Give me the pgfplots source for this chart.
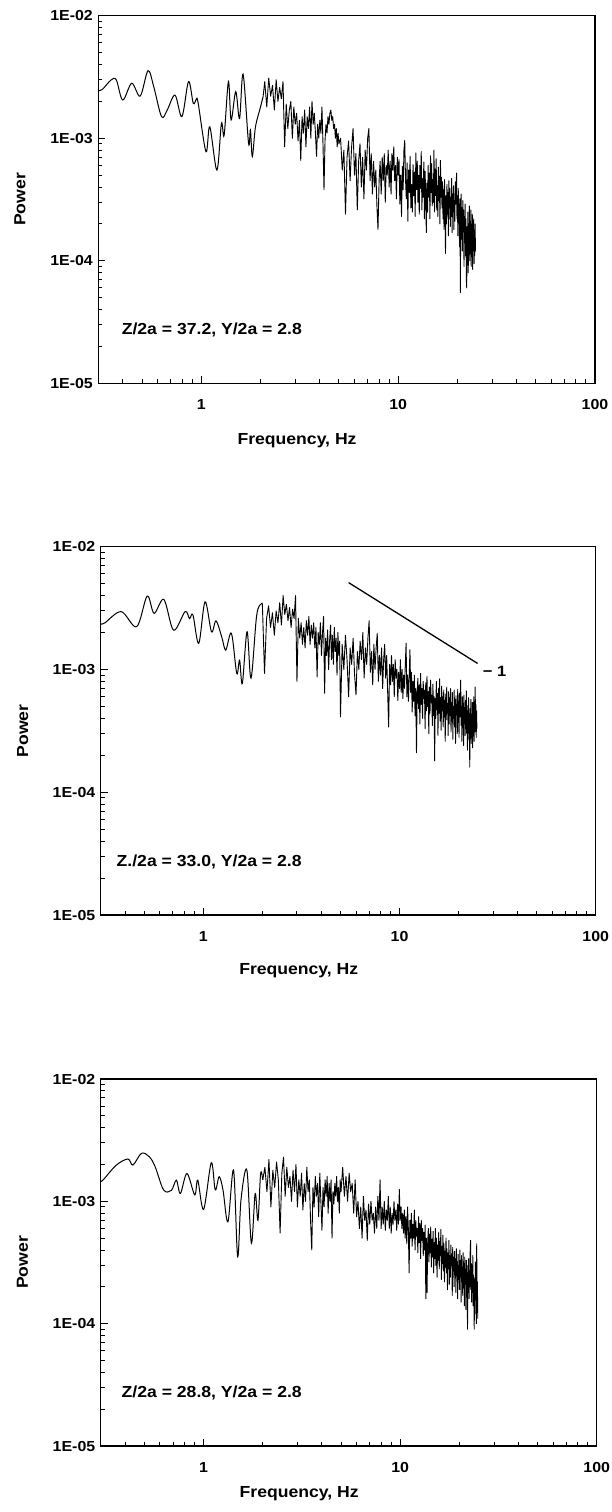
\documentclass[border=0pt]{standalone}
\usepackage{pgfplots}
\pgfplotsset{compat=1.18}
\usepackage{fontspec}
\setmainfont{Liberation Sans}[FakeStretch=1.1]
\setsansfont{Liberation Sans}[FakeStretch=1.1]

\begin{document}
\begin{tikzpicture}
\useasboundingbox (0,0) rectangle (611pt,-1512pt);

% ---------------- Panel 1 ----------------
\begin{axis}[at={(98.4pt,-383.3pt)}, anchor=south west,
  width=496.6pt, height=367.6pt, scale only axis,
  xmode=log, ymode=log,
  xmin=0.3, xmax=100, ymin=1e-5, ymax=1e-2,
  axis line style={line width=1.2pt},
  tick align=inside,
  xtick pos=left, ytick pos=left,
  xtick={1,10,100}, xticklabels={1,10,100},
  ytick={1e-5,1e-4,1e-3,1e-2}, yticklabels={1E-05,1E-04,1E-03,1E-02},
  minor xtick={0.4,0.5,0.6,0.7,0.8,0.9,2,3,4,5,6,7,8,9,20,30,40,50,60,70,80,90},
  minor ytick={2e-5,3e-5,4e-5,5e-5,6e-5,7e-5,8e-5,9e-5,2e-4,3e-4,4e-4,5e-4,6e-4,7e-4,8e-4,9e-4,2e-3,3e-3,4e-3,5e-3,6e-3,7e-3,8e-3,9e-3},
  major tick length=7pt, minor tick length=4pt,
  tick style={black, line width=1pt},
  tick label style={font=\bfseries\fontsize{14.5}{17}\selectfont},
  xticklabel style={yshift=-13pt},
  yticklabel style={xshift=-2pt},
  label style={font=\bfseries\fontsize{16}{19}\selectfont},
  xlabel={Frequency, Hz}, ylabel={Power},
  ylabel style={at={(axis description cs:-0.158,0.5)}, anchor=center},
  xlabel style={at={(axis description cs:0.40,-0.156)}, anchor=center}]
\addplot[black, line width=1.0pt, smooth, tension=0.55, mark=none] table {
0.30 2.45e-3
0.314 2.50e-3
0.348 2.99e-3
0.370 2.99e-3
0.399 2.05e-3
0.443 2.81e-3
0.489 2.21e-3
0.536 3.56e-3
0.573 2.64e-3
0.628 1.50e-3
0.671 1.70e-3
0.735 2.25e-3
0.797 1.50e-3
0.861 2.90e-3
0.910 1.93e-3
0.943 2.08e-3
0.964 1.93e-3
1.056 7.76e-4
1.104 1.24e-3
1.20 5.5e-4
1.265 1.32e-3
1.306 1.06e-3
1.373 2.90e-3
1.417 1.41e-3
1.496 2.40e-3
1.564 1.45e-3
1.63 3.34e-3
1.738 9.1e-4
1.776 1.17e-3
1.816 7.1e-4
1.884 1.24e-3
1.99 1.75e-3
2.06 2.19e-3
};
\addplot[black, line width=0.9pt, line join=round, mark=none] table {
2.06 2.19e-3
2.10 2.9e-3
2.15 1.8e-3
2.20 3.1e-3
2.25 2.2e-3
2.30 2.7e-3
2.35 1.7e-3
2.40 3.0e-3
2.45 2.0e-3
2.50 2.6e-3
2.55 2.1e-3
2.60 2.9e-3
2.65 8.5e-4
2.70 1.9e-3
2.75 1.2e-3
2.80 1.7e-3
2.85 2.0e-3
2.90 1.0e-3
2.95 1.8e-3
3.00 1.3e-3
3.05 1.6e-3
3.10 9.5e-4
3.15 1.4e-3
3.20 6.6e-4
3.25 1.5e-3
3.30 1.1e-3
3.35 1.7e-3
3.40 8.5e-4
3.45 1.5e-3
3.50 1.2e-3
3.55 1.8e-3
3.60 1.0e-3
3.65 2.0e-3
3.70 1.3e-3
3.75 1.6e-3
3.80 1.1e-3
3.85 7.1e-4
3.90 1.3e-3
3.95 1.0e-3
4.00 1.4e-3
4.05 1.1e-3
4.10 1.8e-3
4.15 9.0e-4
4.20 3.8e-4
4.25 9.5e-4
4.30 1.3e-3
4.35 1.1e-3
4.40 1.5e-3
4.45 1.3e-3
4.50 1.6e-3
4.55 1.7e-3
4.60 1.4e-3
4.65 1.5e-3
4.70 1.2e-3
4.75 1.3e-3
4.80 1.0e-3
4.85 1.2e-3
4.90 8.5e-4
4.95 1.1e-3
5.00 9.0e-4
5.1 1.0e-3
5.2 5.5e-4
5.3 8.0e-4
5.4 2.4e-4
5.5 7.0e-4
5.6 9.5e-4
5.7 4.5e-4
5.8 8.5e-4
5.9 1.2e-3
6.0 5.0e-4
6.1 7.5e-4
6.2 2.6e-4
6.3 6.5e-4
6.4 9.0e-4
6.5 4.0e-4
6.6 7.0e-4
6.7 3.2e-4
6.8 8.0e-4
6.9 5.5e-4
7.0 1.0e-3
7.1 1.2e-3
7.2 4.5e-4
7.3 7.5e-4
7.4 3.5e-4
7.5 6.5e-4
7.6 4.0e-4
7.7 5.5e-4
7.8 2.8e-4
7.9 1.8e-4
8.0 4.5e-4
8.1 6.5e-4
8.2 3.5e-4
8.3 7.0e-4
8.4 4.5e-4
8.5 7.5e-4
8.6 3.0e-4
8.7 6.0e-4
8.8 5.0e-4
8.9 8.0e-4
9.0 4.0e-4
9.1 6.5e-4
9.2 3.5e-4
9.3 7.5e-4
9.4 5.5e-4
9.5 8.5e-4
9.6 4.5e-4
9.7 6.0e-4
9.8 3.2e-4
9.9 7.0e-4
10.0 5.0e-4
10.1 6.7e-4
10.2 2.9e-4
10.3 5.0e-4
10.4 2.3e-4
10.5 5.9e-4
10.6 3.8e-4
10.7 8.0e-4
10.8 9.6e-4
10.9 4.6e-4
11.0 3.2e-4
11.1 6.3e-4
11.2 2.1e-4
11.3 5.5e-4
11.4 3.6e-4
11.5 7.1e-4
11.6 2.7e-4
11.7 4.2e-4
11.8 2.5e-4
11.9 6.1e-4
12.0 3.4e-4
12.1 5.3e-4
12.2 2.3e-4
12.3 7.6e-4
12.4 3.8e-4
12.5 6.5e-4
12.6 3.0e-4
12.7 5.0e-4
12.8 2.4e-4
12.9 6.0e-4
13.0 3.9e-4
13.1 7.8e-4
13.2 2.6e-4
13.3 4.7e-4
13.4 3.3e-4
13.5 6.4e-4
13.6 2.2e-4
13.7 5.4e-4
13.8 3.5e-4
13.9 1.7e-4
14.0 4.3e-4
14.1 2.5e-4
14.2 6.0e-4
14.3 3.3e-4
14.4 5.2e-4
14.5 2.2e-4
14.6 7.2e-4
14.7 3.6e-4
14.8 6.2e-4
14.9 2.8e-4
15.0 4.6e-4
15.1 3.0e-4
15.2 8.0e-4
15.3 2.5e-4
15.4 5.6e-4
15.5 3.4e-4
15.6 6.8e-4
15.7 2.6e-4
15.8 4.1e-4
15.9 2.3e-4
16.0 5.8e-4
16.1 3.1e-4
16.2 4.9e-4
16.3 2.0e-4
16.4 6.6e-4
16.5 3.3e-4
16.6 4.8e-4
16.7 2.7e-4
16.8 4.4e-4
16.9 2.2e-4
17.0 3.8e-4
17.1 1.8e-4
17.2 4.6e-4
17.3 2.6e-4
17.4 1.15e-4
17.5 3.4e-4
17.6 2.0e-4
17.7 4.2e-4
17.8 2.4e-4
17.9 3.6e-4
18.0 1.6e-4
18.1 4.5e-4
18.2 2.7e-4
18.3 3.9e-4
18.4 1.9e-4
18.5 3.3e-4
18.6 2.3e-4
18.7 4.7e-4
18.8 1.7e-4
18.9 3.5e-4
19.0 2.5e-4
19.1 4.1e-4
19.2 1.8e-4
19.3 3.1e-4
19.4 2.1e-4
19.5 4.4e-4
19.6 2.9e-4
19.7 3.7e-4
19.8 5.2e-4
19.9 2.2e-4
20.0 3.4e-4
20.1 1.6e-4
20.2 3.9e-4
20.3 2.0e-4
20.4 2.9e-4
20.5 1.3e-4
20.6 3.2e-4
20.7 5.5e-5
20.8 2.4e-4
20.9 3.5e-4
21.0 1.5e-4
21.1 2.7e-4
21.2 1.2e-4
21.3 3.1e-4
21.4 1.8e-4
21.5 2.6e-4
21.6 9.0e-5
21.7 2.3e-4
21.8 1.4e-4
21.9 2.9e-4
22.0 1.1e-4
22.1 2.2e-4
22.2 7.0e-5
22.3 6.0e-5
22.4 1.9e-4
22.5 1.3e-4
22.6 2.5e-4
22.7 8.0e-5
22.8 2.0e-4
22.9 1.2e-4
23.0 2.8e-4
23.1 1.0e-4
23.2 2.1e-4
23.3 1.4e-4
23.4 2.6e-4
23.5 9.0e-5
23.6 1.8e-4
23.7 1.2e-4
23.8 2.4e-4
23.9 8.5e-5
24.0 1.9e-4
24.1 1.3e-4
24.2 2.2e-4
24.3 9.5e-5
24.4 1.7e-4
24.5 1.1e-4
24.6 2.0e-4
24.7 1.2e-4
};
\node[anchor=west, font=\bfseries\fontsize{16}{19}\selectfont] at (axis description cs:0.04,0.145) {Z/2a = 37.2, Y/2a = 2.8};
\end{axis}

% ---------------- Panel 2 ----------------
\begin{axis}[at={(100.8pt,-915pt)}, anchor=south west,
  width=494.9pt, height=368.3pt, scale only axis,
  xmode=log, ymode=log,
  xmin=0.3, xmax=100, ymin=1e-5, ymax=1e-2,
  axis line style={line width=1.2pt},
  tick align=inside,
  xtick pos=left, ytick pos=left,
  xtick={1,10,100}, xticklabels={1,10,100},
  ytick={1e-5,1e-4,1e-3,1e-2}, yticklabels={1E-05,1E-04,1E-03,1E-02},
  minor xtick={0.4,0.5,0.6,0.7,0.8,0.9,2,3,4,5,6,7,8,9,20,30,40,50,60,70,80,90},
  minor ytick={2e-5,3e-5,4e-5,5e-5,6e-5,7e-5,8e-5,9e-5,2e-4,3e-4,4e-4,5e-4,6e-4,7e-4,8e-4,9e-4,2e-3,3e-3,4e-3,5e-3,6e-3,7e-3,8e-3,9e-3},
  major tick length=7pt, minor tick length=4pt,
  tick style={black, line width=1pt},
  tick label style={font=\bfseries\fontsize{14.5}{17}\selectfont},
  xticklabel style={yshift=-13pt},
  yticklabel style={xshift=-2pt},
  label style={font=\bfseries\fontsize{16}{19}\selectfont},
  xlabel={Frequency, Hz}, ylabel={Power},
  ylabel style={at={(axis description cs:-0.158,0.5)}, anchor=center},
  xlabel style={at={(axis description cs:0.40,-0.150)}, anchor=center}]
\addplot[black, line width=1.0pt, smooth, tension=0.55, mark=none] table {
0.30 2.35e-3
0.315 2.40e-3
0.381 2.96e-3
0.457 2.23e-3
0.517 3.96e-3
0.561 2.87e-3
0.629 3.72e-3
0.705 2.09e-3
0.807 2.96e-3
0.85 2.60e-3
0.885 2.78e-3
0.947 1.63e-3
1.02 3.56e-3
1.10 2.03e-3
1.16 2.49e-3
1.24 1.85e-3
1.30 1.44e-3
1.39 1.97e-3
1.48 9.3e-4
1.53 1.19e-3
1.58 7.7e-4
1.67 2.03e-3
1.75 8.5e-4
1.87 2.77e-3
1.98 3.45e-3
2.00 3.3e-3
};
\addplot[black, line width=0.9pt, line join=round, mark=none] table {
2.00 3.3e-3
2.05 9.3e-4
2.10 2.6e-3
2.15 3.3e-3
2.20 2.2e-3
2.25 2.9e-3
2.30 1.9e-3
2.35 3.0e-3
2.40 2.4e-3
2.45 3.5e-3
2.50 2.3e-3
2.55 4.0e-3
2.60 2.8e-3
2.65 3.4e-3
2.70 2.5e-3
2.75 3.2e-3
2.80 2.2e-3
2.85 3.1e-3
2.90 2.6e-3
2.95 4.0e-3
3.00 8.0e-4
3.05 2.6e-3
3.10 1.8e-3
3.15 2.4e-3
3.20 1.6e-3
3.25 2.2e-3
3.30 1.5e-3
3.35 2.5e-3
3.40 1.9e-3
3.45 2.7e-3
3.50 1.6e-3
3.55 2.3e-3
3.60 1.8e-3
3.65 2.4e-3
3.70 1.5e-3
3.75 2.2e-3
3.80 8.7e-4
3.85 2.0e-3
3.90 1.6e-3
3.95 2.4e-3
4.00 1.3e-3
4.05 2.0e-3
4.10 2.7e-3
4.15 6.4e-4
4.20 1.8e-3
4.25 1.3e-3
4.30 2.1e-3
4.35 1.0e-3
4.40 1.7e-3
4.45 2.3e-3
4.50 1.2e-3
4.55 1.9e-3
4.60 1.1e-3
4.65 2.2e-3
4.70 1.4e-3
4.75 1.8e-3
4.80 9.0e-4
4.85 2.0e-3
4.90 1.3e-3
4.95 1.7e-3
5.00 4.1e-4
5.1 1.6e-3
5.2 1.0e-3
5.3 1.9e-3
5.4 1.2e-3
5.5 6.0e-4
5.6 1.5e-3
5.7 1.1e-3
5.8 1.8e-3
5.9 9.0e-4
6.0 6.2e-4
6.1 1.4e-3
6.2 1.0e-3
6.3 1.7e-3
6.4 1.2e-3
6.5 2.0e-3
6.6 8.5e-4
6.7 1.5e-3
6.8 1.1e-3
6.9 1.8e-3
7.0 2.5e-3
7.1 9.5e-4
7.2 1.4e-3
7.3 7.5e-4
7.4 1.6e-3
7.5 1.0e-3
7.6 1.5e-3
7.7 1.97e-3
7.8 8.0e-4
7.9 1.3e-3
8.0 9.0e-4
8.1 1.5e-3
8.2 7.0e-4
8.3 1.2e-3
8.4 1.6e-3
8.5 8.5e-4
8.6 1.3e-3
8.7 6.5e-4
8.8 3.4e-4
8.9 1.1e-3
9.0 7.5e-4
9.1 1.3e-3
9.2 8.0e-4
9.3 1.1e-3
9.4 6.0e-4
9.5 1.2e-3
9.6 8.5e-4
9.7 1.0e-3
9.8 5.6e-4
9.9 9.5e-4
10.0 7.0e-4
10.1 1.2e-3
10.2 6.5e-4
10.3 1.0e-3
10.4 5.8e-4
10.5 9.0e-4
10.6 7.0e-4
10.7 1.1e-3
10.8 1.64e-3
10.9 6.0e-4
11.0 9.0e-4
11.1 5.5e-4
11.2 8.5e-4
11.3 1.45e-3
11.4 6.5e-4
11.5 9.5e-4
11.6 4.5e-4
11.7 8.0e-4
11.8 5.5e-4
11.9 9.0e-4
12.0 4.2e-4
12.1 7.0e-4
12.2 2.1e-4
12.3 6.5e-4
12.4 8.5e-4
12.5 4.8e-4
12.6 7.5e-4
12.7 3.6e-4
12.8 9.3e-4
12.9 5.2e-4
13.0 7.0e-4
13.1 4.0e-4
13.2 8.0e-4
13.3 5.8e-4
13.4 6.8e-4
13.5 3.3e-4
13.6 7.8e-4
13.7 4.6e-4
13.8 8.8e-4
13.9 5.0e-4
14.0 6.6e-4
14.1 3.0e-4
14.2 7.2e-4
14.3 4.4e-4
14.4 8.2e-4
14.5 5.4e-4
14.6 6.2e-4
14.7 3.5e-4
14.8 7.6e-4
14.9 4.2e-4
15.0 6.0e-4
15.1 1.8e-4
15.2 5.8e-4
15.3 4.0e-4
15.4 8.0e-4
15.5 4.7e-4
15.6 6.4e-4
15.7 2.9e-4
15.8 7.0e-4
15.9 4.4e-4
16.0 8.4e-4
16.1 3.8e-4
16.2 5.9e-4
16.3 3.2e-4
16.4 7.3e-4
16.5 4.6e-4
16.6 6.0e-4
16.7 3.4e-4
16.8 6.8e-4
16.9 4.1e-4
17.0 5.6e-4
17.1 2.6e-4
17.2 6.3e-4
17.3 3.9e-4
17.4 7.2e-4
17.5 4.4e-4
17.6 5.3e-4
17.7 2.9e-4
17.8 6.6e-4
17.9 3.6e-4
18.0 5.9e-4
18.1 4.2e-4
18.2 7.0e-4
18.3 3.1e-4
18.4 5.4e-4
18.5 3.8e-4
18.6 6.5e-4
18.7 2.7e-4
18.8 5.0e-4
18.9 4.0e-4
19.0 6.8e-4
19.1 3.4e-4
19.2 5.7e-4
19.3 2.5e-4
19.4 6.1e-4
19.5 4.3e-4
19.6 5.2e-4
19.7 3.0e-4
19.8 6.9e-4
19.9 3.7e-4
20.0 5.5e-4
20.1 2.8e-4
20.2 6.4e-4
20.3 4.1e-4
20.4 5.8e-4
20.5 8.2e-4
20.6 3.5e-4
20.7 5.0e-4
20.8 2.6e-4
20.9 6.0e-4
21.0 3.9e-4
21.1 5.3e-4
21.2 2.4e-4
21.3 6.2e-4
21.4 3.6e-4
21.5 4.9e-4
21.6 2.9e-4
21.7 5.6e-4
21.8 3.3e-4
21.9 6.7e-4
22.0 3.0e-4
22.1 4.6e-4
22.2 2.2e-4
22.3 5.1e-4
22.4 3.4e-4
22.5 5.9e-4
22.6 2.7e-4
22.7 4.4e-4
22.8 1.6e-4
22.9 4.8e-4
23.0 3.2e-4
23.1 5.7e-4
23.2 2.5e-4
23.3 4.2e-4
23.4 3.0e-4
23.5 5.4e-4
23.6 2.3e-4
23.7 4.7e-4
23.8 3.5e-4
23.9 6.0e-4
24.0 2.6e-4
24.1 4.5e-4
24.2 3.1e-4
24.3 7.2e-4
24.4 3.7e-4
24.5 5.2e-4
24.6 2.8e-4
24.7 4.6e-4
24.8 3.3e-4
};
\addplot[black, line width=1.3pt, mark=none] coordinates {(5.5,5.1e-3) (25,1.12e-3)};
\node[anchor=west, font=\bfseries\fontsize{15}{18}\selectfont] at (axis cs:25.5,9.6e-4) {− 1};
\node[anchor=west, font=\bfseries\fontsize{16}{19}\selectfont] at (axis description cs:0.025,0.145) {Z./2a = 33.0, Y/2a = 2.8};
\end{axis}

% ---------------- Panel 3 ----------------
\begin{axis}[at={(100.8pt,-1446pt)}, anchor=south west,
  width=496pt, height=367pt, scale only axis,
  xmode=log, ymode=log,
  xmin=0.3, xmax=100, ymin=1e-5, ymax=1e-2,
  axis line style={line width=1.2pt},
  tick align=inside,
  xtick pos=left, ytick pos=left,
  xtick={1,10,100}, xticklabels={1,10,100},
  ytick={1e-5,1e-4,1e-3,1e-2}, yticklabels={1E-05,1E-04,1E-03,1E-02},
  minor xtick={0.4,0.5,0.6,0.7,0.8,0.9,2,3,4,5,6,7,8,9,20,30,40,50,60,70,80,90},
  minor ytick={2e-5,3e-5,4e-5,5e-5,6e-5,7e-5,8e-5,9e-5,2e-4,3e-4,4e-4,5e-4,6e-4,7e-4,8e-4,9e-4,2e-3,3e-3,4e-3,5e-3,6e-3,7e-3,8e-3,9e-3},
  major tick length=7pt, minor tick length=4pt,
  tick style={black, line width=1pt},
  tick label style={font=\bfseries\fontsize{14.5}{17}\selectfont},
  xticklabel style={yshift=-13pt},
  yticklabel style={xshift=-2pt},
  label style={font=\bfseries\fontsize{16}{19}\selectfont},
  xlabel={Frequency, Hz}, ylabel={Power},
  ylabel style={at={(axis description cs:-0.158,0.5)}, anchor=center},
  xlabel style={at={(axis description cs:0.40,-0.131)}, anchor=center}]
\addplot[black, line width=1.0pt, smooth, tension=0.55, mark=none] table {
0.30 1.45e-3
0.311 1.52e-3
0.36 1.98e-3
0.412 2.22e-3
0.437 1.98e-3
0.483 2.47e-3
0.529 2.32e-3
0.567 1.92e-3
0.626 1.24e-3
0.686 1.23e-3
0.727 1.49e-3
0.762 1.16e-3
0.823 1.69e-3
0.901 1.13e-3
0.934 1.49e-3
1.00 8.6e-4
1.094 2.07e-3
1.146 1.24e-3
1.20 1.59e-3
1.255 1.24e-3
1.33 6.8e-4
1.42 1.80e-3
1.49 3.53e-4
1.55 1.03e-3
1.66 1.80e-3
1.75 4.54e-4
1.83 1.16e-3
1.89 7.0e-4
1.95 1.69e-3
2.00 1.5e-3
};
\addplot[black, line width=0.9pt, line join=round, mark=none] table {
2.00 1.5e-3
2.05 1.9e-3
2.10 1.2e-3
2.15 2.2e-3
2.20 9.0e-4
2.25 1.8e-3
2.30 1.3e-3
2.35 2.1e-3
2.40 1.5e-3
2.45 5.5e-4
2.50 1.7e-3
2.55 2.3e-3
2.60 1.1e-3
2.65 1.9e-3
2.70 1.3e-3
2.75 1.6e-3
2.80 1.0e-3
2.85 1.8e-3
2.90 1.2e-3
2.95 2.0e-3
3.00 9.0e-4
3.05 1.5e-3
3.10 1.1e-3
3.15 1.7e-3
3.20 8.5e-4
3.25 1.4e-3
3.30 1.0e-3
3.35 1.9e-3
3.40 1.2e-3
3.45 1.5e-3
3.50 7.0e-4
3.55 4.0e-4
3.60 1.3e-3
3.65 9.0e-4
3.70 1.6e-3
3.75 1.1e-3
3.80 1.4e-3
3.85 7.5e-4
3.90 1.7e-3
3.95 1.0e-3
4.00 5.8e-4
4.05 1.3e-3
4.10 9.0e-4
4.15 1.5e-3
4.20 1.1e-3
4.25 1.6e-3
4.30 8.0e-4
4.35 1.4e-3
4.40 1.0e-3
4.45 1.5e-3
4.50 5.0e-4
4.55 1.2e-3
4.60 9.5e-4
4.65 1.4e-3
4.70 1.1e-3
4.75 1.6e-3
4.80 1.0e-3
4.85 1.3e-3
4.90 8.0e-4
4.95 1.5e-3
5.00 1.2e-3
5.1 1.9e-3
5.2 1.1e-3
5.3 1.6e-3
5.4 1.0e-3
5.5 1.7e-3
5.6 1.2e-3
5.7 1.4e-3
5.8 8.0e-4
5.9 1.5e-3
6.0 7.5e-4
6.1 1.0e-3
6.2 6.0e-4
6.3 9.0e-4
6.4 5.0e-4
6.5 1.1e-3
6.6 7.0e-4
6.7 8.5e-4
6.8 4.8e-4
6.9 9.5e-4
7.0 6.5e-4
7.1 1.0e-3
7.2 7.0e-4
7.3 8.0e-4
7.4 5.5e-4
7.5 9.0e-4
7.6 6.0e-4
7.7 1.1e-3
7.8 7.0e-4
7.9 1.5e-3
8.0 6.0e-4
8.1 9.0e-4
8.2 6.5e-4
8.3 1.0e-3
8.4 5.8e-4
8.5 8.5e-4
8.6 7.0e-4
8.7 1.1e-3
8.8 6.0e-4
8.9 9.0e-4
9.0 5.5e-4
9.1 8.0e-4
9.2 6.5e-4
9.3 1.0e-3
9.4 7.0e-4
9.5 8.5e-4
9.6 5.8e-4
9.7 9.5e-4
9.8 6.5e-4
9.9 1.25e-3
10.0 7.0e-4
10.1 9.0e-4
10.2 6.0e-4
10.3 8.0e-4
10.4 5.5e-4
10.5 8.5e-4
10.6 5.0e-4
10.7 7.5e-4
10.8 4.5e-4
10.9 9.0e-4
11.0 6.0e-4
11.1 2.6e-4
11.2 7.0e-4
11.3 5.0e-4
11.4 8.0e-4
11.5 4.3e-4
11.6 6.5e-4
11.7 5.0e-4
11.8 8.5e-4
11.9 4.0e-4
12.0 7.0e-4
12.1 5.2e-4
12.2 6.0e-4
12.3 3.8e-4
12.4 7.5e-4
12.5 4.6e-4
12.6 6.6e-4
12.7 3.4e-4
12.8 7.0e-4
12.9 4.8e-4
13.0 6.0e-4
13.1 3.6e-4
13.2 5.6e-4
13.3 4.0e-4
13.4 6.4e-4
13.5 1.6e-4
13.6 5.0e-4
13.7 1.8e-4
13.8 4.6e-4
13.9 6.0e-4
14.0 3.2e-4
14.1 5.4e-4
14.2 3.8e-4
14.3 6.2e-4
14.4 2.9e-4
14.5 4.9e-4
14.6 3.5e-4
14.7 5.7e-4
14.8 2.6e-4
14.9 4.6e-4
15.0 3.4e-4
15.1 6.0e-4
15.2 3.0e-4
15.3 5.0e-4
15.4 2.4e-4
15.5 4.4e-4
15.6 3.3e-4
15.7 5.6e-4
15.8 2.8e-4
15.9 4.7e-4
16.0 3.6e-4
16.1 5.9e-4
16.2 2.3e-4
16.3 4.3e-4
16.4 3.1e-4
16.5 5.3e-4
16.6 2.7e-4
16.7 4.5e-4
16.8 2.2e-4
16.9 3.9e-4
17.0 2.9e-4
17.1 5.0e-4
17.2 2.6e-4
17.3 4.1e-4
17.4 1.9e-4
17.5 3.8e-4
17.6 2.8e-4
17.7 4.8e-4
17.8 2.1e-4
17.9 3.6e-4
18.0 2.4e-4
18.1 4.4e-4
18.2 3.0e-4
18.3 3.7e-4
18.4 1.7e-4
18.5 4.2e-4
18.6 2.7e-4
18.7 3.5e-4
18.8 2.0e-4
18.9 3.9e-4
19.0 2.5e-4
19.1 3.4e-4
19.2 1.8e-4
19.3 4.1e-4
19.4 2.6e-4
19.5 3.2e-4
19.6 1.6e-4
19.7 3.7e-4
19.8 2.3e-4
19.9 3.0e-4
20.0 1.9e-4
20.1 4.0e-4
20.2 2.4e-4
20.3 3.3e-4
20.4 1.5e-4
20.5 3.6e-4
20.6 2.2e-4
20.7 2.9e-4
20.8 1.7e-4
20.9 3.8e-4
21.0 2.5e-4
21.1 3.1e-4
21.2 1.4e-4
21.3 3.5e-4
21.4 2.1e-4
21.5 2.8e-4
21.6 1.3e-4
21.7 3.3e-4
21.8 2.0e-4
21.9 2.6e-4
22.0 9.0e-5
22.1 3.0e-4
22.2 1.8e-4
22.3 3.4e-4
22.4 1.6e-4
22.5 2.7e-4
22.6 2.0e-4
22.7 3.9e-4
22.8 4.8e-4
22.9 1.9e-4
23.0 3.1e-4
23.1 1.5e-4
23.2 2.8e-4
23.3 1.8e-4
23.4 3.6e-4
23.5 1.4e-4
23.6 2.5e-4
23.7 1.6e-4
23.8 9.0e-5
23.9 2.3e-4
24.0 1.2e-4
24.1 3.2e-4
24.2 1.7e-4
24.3 2.6e-4
24.4 1.0e-4
24.5 4.5e-4
24.6 1.5e-4
24.7 2.2e-4
24.8 1.1e-4
};
\node[anchor=west, font=\bfseries\fontsize{16}{19}\selectfont] at (axis description cs:0.035,0.144) {Z/2a = 28.8, Y/2a = 2.8};
\end{axis}
\end{tikzpicture}
\end{document}
